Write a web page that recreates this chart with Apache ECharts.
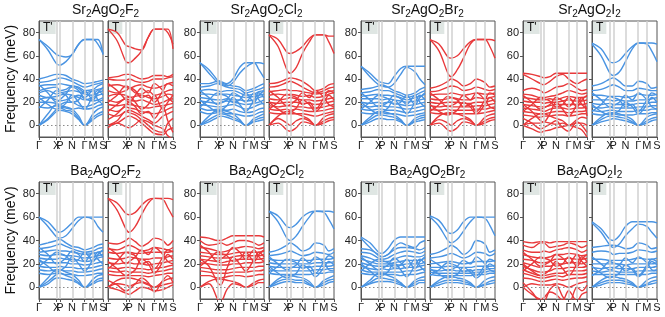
<!DOCTYPE html>
<html><head><meta charset="utf-8">
<script src="https://cdn.jsdelivr.net/npm/echarts@6/dist/echarts.min.js"></script>
<style>html,body{margin:0;padding:0;background:#fff}#c{width:665px;height:317px}</style>
</head><body><div id="c"></div>
<script>
// k-path sample positions (Γ, Γ-X, X, P, P-N, N, N-Γ, Γ, M, M-S, S)
const K = [0, 0.14, 0.275, 0.325, 0.42, 0.515, 0.62, 0.713, 0.845, 0.92, 1.0];
const hsPos = [0, 0.275, 0.325, 0.515, 0.713, 0.845, 1];
const hsLabels = ['Γ', 'X', 'P', 'N', 'Γ', 'M', 'S'];
const yTicks = [0, 20, 40, 60, 80];
const compounds = ['Sr{s|2}AgO{s|2}F{s|2}', 'Sr{s|2}AgO{s|2}Cl{s|2}', 'Sr{s|2}AgO{s|2}Br{s|2}', 'Sr{s|2}AgO{s|2}I{s|2}',
                   'Ba{s|2}AgO{s|2}F{s|2}', 'Ba{s|2}AgO{s|2}Cl{s|2}', 'Ba{s|2}AgO{s|2}Br{s|2}', 'Ba{s|2}AgO{s|2}I{s|2}'];
const phases = ["T'", 'T'];

// Sr2AgO2F2
const srF_Tp = [
 [74,68,61,60,59,61,70,74,74,74,61],[74,65,53,52,55,61,70,74,74,70,62],
 [40,42,44,44,43,40,38,36,37,38,39],[37,38,40,41,40,38,35,33,35,36,37],
 [34,35,35,36,35,34,33,30,31,34,36],[30,32,33,30,31,34,32,28,30,31,32],
 [28,30,27,28,29,30,29,27,26,28,30],[26,24,25,26,27,26,24,22,24,26,27],
 [22,24,22,21,22,24,26,23,21,22,24],[20,20,19,18,20,20,17,16,18,20,22],
 [16,15,17,16,15,14,15,14,15,17,18],[0,10,18,17,16,14,8,0,10,14,16],
 [0,6,14,15,13,12,6,0,7,10,12],[0,5,12,13,12,10,5,0,5,8,10],
 [35,28,20,22,27,33,30,24,30,22,18],[15,22,30,29,26,20,22,30,22,28,33],[24,18,14,15,19,26,20,14,26,30,26]];
const srF_T = [
 [83,80,69,68,66,65,76,83,83,83,66],[83,73,55,54,58,64,76,83,83,80,70],
 [41,42,44,44,42,40,41,43,43,42,44],[40,39,39,40,38,37,38,40,40,41,42],
 [34,35,33,32,34,35,33,32,34,36,37],[30,28,30,32,28,27,30,26,28,30,31],
 [25,27,26,24,25,26,24,23,25,27,26],[22,20,23,22,21,22,20,18,20,22,23],
 [18,17,18,18,17,16,15,16,17,18,19],[14,12,16,15,14,12,11,10,12,14,16],
 [10,8,12,13,11,8,5,2,8,10,12],[0,4,12,11,9,5,0,-4,-6,2,6],
 [0,2,7,8,6,2,-3,-7,-8,-4,-2],[-2,2,-1,-2,1,5,3,0,-3,-9,-12],
 [36,30,22,20,26,32,28,36,30,24,20],[20,26,34,33,30,24,26,20,30,36,34],[12,18,24,25,20,14,18,26,14,20,26],[5,10,18,20,16,10,12,6,16,4,-6]];
// Sr2AgO2Cl2
const srCl_Tp = [
 [54,48,39,38,36,40,50,54,54,54,53],[54,45,37,36,34,37,45,50,54,48,41],
 [36,36,38,37,35,34,33,30,32,34,36],[33,34,36,35,33,32,31,28,30,31,33],
 [30,31,30,29,30,30,28,26,27,29,30],[27,27,26,27,27,26,25,24,25,26,27],
 [24,23,22,22,23,22,22,21,22,24,25],[21,20,19,20,21,20,19,18,19,20,22],
 [18,17,16,16,17,18,16,14,16,18,19],[15,13,14,14,13,14,12,11,12,14,15],
 [12,10,11,12,10,10,9,8,9,11,12],[0,8,13,13,12,10,5,0,6,8,10],
 [0,5,9,10,9,7,4,0,4,6,7],[0,3,7,8,7,5,3,0,3,4,5],
 [30,24,18,19,22,28,25,20,28,22,18],[16,22,28,27,25,20,22,28,20,26,30],[22,16,12,13,17,24,18,12,22,28,24]];
const srCl_T = [
 [78,74,63,62,64,68,75,78,78,77,77],[78,68,48,45,50,62,72,78,78,72,62],
 [36,37,40,41,40,38,34,30,32,35,36],[33,34,37,38,36,33,30,28,30,32,33],
 [29,30,31,30,30,29,28,27,28,29,30],[26,27,26,27,26,25,26,24,25,27,28],
 [23,22,23,24,23,22,22,21,22,23,24],[20,19,20,20,20,19,19,18,19,20,21],
 [17,16,17,17,16,16,15,15,16,17,18],[14,13,14,13,14,13,12,12,13,14,15],
 [11,10,10,10,10,10,9,8,10,11,12],[0,8,12,12,10,8,5,0,7,9,10],
 [0,6,2,0,4,6,4,0,4,6,7],[0,2,-4,-5,-2,3,2,0,2,4,5],
 [30,24,17,18,22,28,24,30,24,18,16],[14,20,27,26,24,18,20,14,24,30,28],[20,14,10,11,15,22,18,12,20,26,22]];
// Sr2AgO2Br2
const srBr_Tp = [
 [51,45,38,37,36,42,49,51,51,51,51],[51,42,35,34,33,36,44,50,46,40,35],
 [31,32,34,35,33,30,28,26,28,31,33],[28,29,31,30,30,28,26,24,26,28,30],
 [25,26,27,26,26,25,24,22,24,25,27],[23,23,23,22,23,22,21,20,21,22,23],
 [20,19,20,19,20,19,18,17,18,19,20],[17,16,17,17,16,16,15,14,15,16,17],
 [14,13,14,14,13,13,12,11,12,13,14],[11,10,11,11,10,10,9,8,9,10,11],
 [0,7,12,12,11,9,5,0,6,8,9],[0,5,9,9,8,7,4,0,4,6,7],[0,3,6,6,5,5,3,0,3,4,5],
 [28,22,16,17,20,26,23,18,26,20,16],[14,20,26,25,23,18,20,26,18,24,28],[20,14,10,11,15,22,16,10,20,26,22]];
const srBr_T = [
 [74,70,59,58,60,66,72,74,74,74,73],[74,64,45,42,48,58,70,74,74,68,58],
 [32,34,38,40,38,34,36,40,37,33,34],[29,30,33,34,33,30,31,33,31,30,31],
 [26,27,27,28,27,26,27,28,27,27,28],[23,22,23,24,23,22,22,24,23,24,25],
 [20,19,20,20,20,19,19,20,20,21,22],[17,16,17,16,16,16,16,17,17,18,19],
 [14,13,14,13,13,13,13,14,14,15,16],[11,10,10,10,10,10,10,10,11,12,13],
 [0,8,11,11,10,8,5,0,7,9,10],[0,5,2,0,4,6,4,0,4,6,7],[0,2,-4,-5,-2,3,2,0,2,4,5],
 [28,22,16,17,20,26,22,28,22,16,14],[12,18,25,24,22,16,18,12,22,28,26],[18,12,9,10,13,20,16,10,18,24,20]];
// Sr2AgO2I2
const srI_Tp = [
 [45,44,42,41,42,45,45,45,45,45,45],[44,40,36,35,38,42,44,40,36,38,40],
 [30,32,30,28,30,33,34,36,32,30,31],[27,26,24,24,25,26,28,30,28,27,28],
 [24,23,22,22,23,22,24,25,24,24,25],[21,20,20,19,20,20,21,22,21,21,22],
 [18,17,16,16,17,18,18,18,18,18,19],[15,14,13,12,14,15,15,14,15,15,16],
 [12,11,10,10,11,12,12,11,12,12,13],[9,8,7,8,8,9,9,8,9,10,10],
 [0,6,10,10,8,6,4,0,5,7,6],[0,2,2,3,2,1,2,0,2,2,0],[0,-3,-6,-5,-4,-2,-1,0,-2,-4,-10],
 [26,20,14,15,18,24,21,16,24,18,14],[12,18,24,23,21,16,18,24,16,22,26],[18,12,4,3,10,20,14,8,18,24,8],[6,2,-3,-2,1,4,-2,-5,3,0,-6]];
const srI_T = [
 [71,66,55,54,56,62,68,71,71,71,70],[70,60,45,43,46,55,66,71,70,64,55],
 [34,36,40,41,38,34,34,38,36,32,33],[30,31,34,35,33,30,30,32,31,30,30],
 [26,26,25,25,25,24,25,27,26,26,27],[22,22,22,21,22,21,21,22,22,23,24],
 [19,18,19,18,18,18,18,19,19,20,20],[16,15,16,15,15,15,15,16,16,17,17],
 [13,12,13,13,12,12,12,13,13,14,14],[10,9,10,10,9,9,9,10,10,11,11],
 [0,7,11,11,10,8,5,0,7,9,10],[0,5,8,8,7,6,3,0,4,6,7],[0,3,5,6,5,4,2,0,2,4,5],
 [28,22,16,17,20,26,22,28,22,16,14],[12,18,25,24,22,16,18,12,22,28,26],[18,12,9,10,13,20,16,10,18,24,20]];
// Ba2AgO2F2
const baF_Tp = [
 [60,56,48,47,50,55,60,60,60,60,60],[60,52,43,42,44,50,57,60,58,52,47],
 [36,38,40,41,38,35,34,32,34,36,37],[33,34,36,37,35,33,31,30,31,33,34],
 [30,31,32,31,31,30,29,28,29,30,31],[28,27,28,28,27,27,26,25,26,27,28],
 [25,24,24,25,24,24,23,22,23,25,26],[22,21,21,21,21,20,20,19,20,21,22],
 [18,17,17,18,17,17,16,16,17,18,19],[15,14,15,15,14,14,13,13,14,15,16],
 [12,11,12,12,11,11,10,10,11,12,12],[0,8,15,15,13,11,6,0,7,10,11],
 [0,5,11,12,10,8,4,0,4,7,8],[0,3,8,8,7,6,3,0,3,5,6],
 [34,28,20,21,25,31,28,22,30,24,20],[18,24,30,29,27,22,24,30,22,28,32],[24,18,13,14,18,26,20,14,24,30,26]];
const baF_T = [
 [76,72,63,62,64,70,75,76,76,76,75],[76,66,50,47,52,62,72,76,75,68,60],
 [38,37,40,42,39,35,38,42,40,36,40],[33,32,35,36,34,31,32,34,33,32,34],
 [30,29,30,30,29,29,30,30,30,30,31],[25,24,25,26,25,24,24,25,25,26,27],
 [21,20,21,21,20,20,19,20,21,22,23],[17,16,17,17,16,16,15,16,17,18,19],
 [14,13,14,13,13,13,12,13,14,15,16],[11,10,10,10,10,10,9,10,11,12,12],
 [0,6,8,8,7,5,3,0,5,7,8],[0,3,2,1,3,4,2,0,2,3,4],[0,-2,-5,-6,-3,0,-1,-3,-2,0,2],
 [34,28,20,22,26,32,28,34,28,22,20],[16,22,30,29,27,20,22,16,26,32,30],[22,16,10,11,15,24,20,12,22,28,24],[6,2,-3,-2,3,8,4,-4,6,10,4]];
// Ba2AgO2Cl2
const baCl_Tp = [
 [43,42,40,40,42,44,44,44,44,44,43],[40,36,37,38,36,38,40,40,38,36,38],
 [34,33,31,30,31,33,34,35,34,33,34],[30,29,28,28,28,29,30,30,30,30,31],
 [27,26,25,25,25,26,27,27,27,27,28],[24,23,22,21,22,23,24,24,24,24,25],
 [21,20,19,19,19,20,20,21,21,21,22],[17,16,15,15,15,16,17,17,17,18,18],
 [14,13,12,12,12,13,13,13,14,14,15],[10,10,8,8,9,10,10,9,10,11,11],
 [0,5,7,7,6,5,3,0,4,6,7],[0,3,-10,-12,-2,3,2,0,2,4,4],
 [36,30,22,24,28,34,30,24,32,26,22],[18,24,30,29,27,22,24,30,22,28,32],[24,18,4,2,16,26,20,14,24,30,26]];
const baCl_T = [
 [65,61,52,51,54,60,64,65,65,65,64],[65,56,42,40,44,52,60,65,64,58,50],
 [30,32,36,38,35,31,33,38,36,31,33],[27,28,30,31,29,27,28,30,29,28,30],
 [24,23,23,24,23,23,23,24,24,24,25],[21,20,20,20,20,20,20,21,21,21,22],
 [18,17,17,17,17,17,17,18,18,18,19],[15,14,14,14,14,14,14,15,15,16,16],
 [12,11,11,11,11,11,11,12,12,13,13],[0,7,10,10,9,8,5,0,6,8,10],
 [0,5,7,7,6,6,3,0,4,6,7],[0,3,5,5,4,4,2,0,2,4,5],
 [26,20,15,16,19,25,21,26,21,15,14],[12,18,24,23,21,16,18,12,22,27,25],[18,12,8,9,12,19,15,9,17,22,19]];
// Ba2AgO2Br2
const baBr_Tp = [
 [43,38,30,29,33,40,43,43,43,43,43],[42,34,27,26,28,34,38,36,34,38,40],
 [33,32,28,26,28,32,34,34,33,32,34],[30,29,25,24,25,28,30,31,30,29,31],
 [27,25,22,22,22,24,26,27,26,26,28],[24,22,20,20,20,21,22,23,23,23,25],
 [21,19,18,18,18,19,19,20,20,20,22],[18,16,15,16,15,16,16,17,17,18,19],
 [15,13,13,13,13,13,13,14,14,15,16],[12,11,11,11,11,11,10,11,11,12,13],
 [0,6,12,12,10,8,4,0,6,8,9],[0,4,8,8,7,6,3,0,4,6,6],[0,3,5,5,5,4,2,0,2,4,4],
 [26,20,15,16,19,25,21,16,24,18,14],[14,20,24,23,21,17,19,24,16,22,26],[20,14,9,10,13,21,15,9,19,24,20]];
const baBr_T = [
 [61,57,47,46,49,56,60,60,60,60,60],[60,52,40,38,41,48,56,60,59,53,44],
 [28,30,34,36,33,28,32,40,37,30,32],[25,26,28,29,27,25,27,30,29,27,29],
 [20,21,22,22,21,20,21,22,22,22,23],[17,17,18,18,17,17,17,18,18,18,19],
 [15,14,15,15,14,14,14,15,15,16,16],[13,12,12,12,12,12,12,13,13,14,14],
 [11,10,10,10,10,10,10,11,11,12,12],[0,6,9,9,8,7,4,0,6,8,9],
 [0,4,6,6,6,5,3,0,3,5,6],[0,2,4,4,4,3,2,0,2,3,4],
 [24,19,14,15,18,23,20,26,20,15,13],[10,15,21,20,18,13,15,10,19,24,22],[16,11,8,9,11,17,13,8,15,20,17]];
// Ba2AgO2I2
const baI_Tp = [
 [39,38,39,39,38,39,39,39,39,39,39],[36,34,38,38,34,35,36,38,36,34,36],
 [32,30,30,31,30,32,33,34,32,30,32],[28,26,25,25,26,28,28,29,28,27,28],
 [24,23,21,21,22,24,24,25,24,24,25],[21,19,17,18,18,20,20,21,21,20,22],
 [18,15,13,13,14,16,16,17,17,17,18],[15,12,10,10,11,12,12,14,14,14,15],
 [12,10,8,8,9,10,9,11,11,11,12],[8,7,5,5,6,7,6,7,8,8,9],
 [0,3,2,2,2,3,2,0,3,4,5],[0,-6,-10,-9,-4,-6,-11,-3,-12,-6,-4],
 [30,24,18,19,22,28,25,20,28,22,18],[14,20,26,25,23,18,20,26,18,24,28],[20,14,10,11,15,22,16,10,20,26,22],[4,-4,-12,-12,-2,2,-8,-14,0,-3,2]];
const baI_T = [
 [56,50,41,40,44,52,56,56,56,56,55],[55,47,36,34,37,44,50,54,52,47,42],
 [34,35,36,36,35,33,34,38,36,33,34],[30,31,30,28,29,29,30,32,31,30,31],
 [24,24,23,23,23,23,24,25,24,24,25],[20,20,20,20,20,19,20,20,20,20,21],
 [17,16,17,17,16,16,16,17,17,17,18],[14,13,14,14,13,13,13,14,14,14,15],
 [11,11,11,11,11,11,11,11,11,12,12],[0,6,9,9,8,7,4,0,6,8,9],
 [0,4,6,6,6,5,3,0,3,5,6],[0,2,4,4,4,3,2,0,2,3,4],
 [26,20,15,16,19,25,21,26,21,15,14],[10,15,22,21,19,14,16,10,19,24,22],[18,12,8,9,12,19,15,9,17,22,19]];

const BLUE = '#4a94e2', RED = '#e8393b';
// panel list: [compound index, phase index, bands, color]
const panels = [
 [0,0,srF_Tp,BLUE],[0,1,srF_T,RED],[1,0,srCl_Tp,BLUE],[1,1,srCl_T,RED],
 [2,0,srBr_Tp,BLUE],[2,1,srBr_T,RED],[3,0,srI_Tp,RED],[3,1,srI_T,BLUE],
 [4,0,baF_Tp,BLUE],[4,1,baF_T,RED],[5,0,baCl_Tp,RED],[5,1,baCl_T,BLUE],
 [6,0,baBr_Tp,BLUE],[6,1,baBr_T,BLUE],[7,0,baI_Tp,RED],[7,1,baI_T,BLUE]];

const colLeft = [39, 200, 361, 523];
const rowTop = [21, 182];
const rowH = [116, 117];

const grids = [], xAxes = [], yAxes = [], series = [], titles = [];
panels.forEach((p, i) => {
  const [ci, ph, bands, color] = p;
  const col = ci % 4, row = Math.floor(ci / 4);
  const left = colLeft[col] + (ph ? 69 : 0);
  const w = ph ? 65 : 64;
  grids.push({left: left, top: rowTop[row], width: w, height: rowH[row], show: true,
    borderColor: '#555', borderWidth: 1, backgroundColor: 'transparent'});
  xAxes.push({type: 'value', gridIndex: i, min: 0, max: 1,
    axisLine: {show: true, onZero: false, lineStyle: {color: '#555'}},
    axisTick: {show: true, customValues: hsPos, length: 3, lineStyle: {color: '#555'}},
    axisLabel: {show: true, customValues: hsPos, margin: 3, fontSize: 11, color: '#222',
      fontFamily: 'Liberation Sans',
      formatter: v => { let b = 0; hsPos.forEach((h, j) => { if (Math.abs(h - v) < Math.abs(hsPos[b] - v)) b = j; }); return hsLabels[b]; }},
    splitLine: {show: false}});
  yAxes.push({type: 'value', gridIndex: i, min: -10, max: 90,
    name: (ph === 0 && col === 0) ? 'Frequency (meV)' : '', nameLocation: 'middle', nameGap: 21,
    nameTextStyle: {fontSize: 14, color: '#111', fontFamily: 'Liberation Sans'},
    axisLine: {show: true, lineStyle: {color: '#555'}},
    axisTick: {show: true, customValues: yTicks, length: 3, lineStyle: {color: '#555'}},
    axisLabel: {show: ph === 0, customValues: yTicks, margin: 4, fontSize: 11, color: '#222', fontFamily: 'Liberation Sans'},
    splitLine: {show: false}});
  // reference lines
  series.push({type: 'line', xAxisIndex: i, yAxisIndex: i, data: [], z: 1, silent: true, animation: false,
    markLine: {silent: true, symbol: ['none', 'none'], label: {show: false}, animation: false,
      data: hsPos.slice(1, -1).map(x => ({xAxis: x, lineStyle: {color: '#d0d0d0', width: 1.5, type: 'solid'}}))
        .concat([{yAxis: 0, lineStyle: {color: '#8a8a8a', width: 1, type: [1.5, 2.5]}}])}});
  bands.forEach(b => {
    series.push({type: 'line', xAxisIndex: i, yAxisIndex: i, z: 2, silent: true, animation: false,
      showSymbol: false, smooth: 0.35, clip: true,
      lineStyle: {color: color, width: 1.4},
      data: K.map((k, j) => [k, b[j]])});
  });
  titles.push({text: phases[ph], left: left + 1, top: rowTop[row] + 1, z: 1,
    backgroundColor: '#dfe6e3', padding: [0, 3, 0, 3],
    textStyle: {fontSize: 12, fontWeight: 'normal', color: '#111', lineHeight: 12, fontFamily: 'Liberation Sans'}});
});
compounds.forEach((c, ci) => {
  const col = ci % 4, row = Math.floor(ci / 4);
  titles.push({text: c, left: colLeft[col] + 66.5, top: row ? 162 : 1, textAlign: 'center', padding: 0,
    textStyle: {fontSize: 14, fontWeight: 'normal', color: '#111', fontFamily: 'Liberation Sans',
      rich: {s: {fontSize: 10, padding: [8, 0, 0, 0], fontFamily: 'Liberation Sans', color: '#111'}}}});
});

const chart = echarts.init(document.getElementById('c'), null, {renderer: 'canvas'});
chart.setOption({animation: false, title: titles, grid: grids, xAxis: xAxes, yAxis: yAxes, series: series});
</script></body></html>
